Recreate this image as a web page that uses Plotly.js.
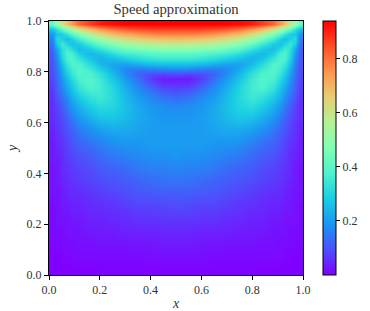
<!DOCTYPE html>
<html>
<head>
<meta charset="utf-8">
<script src="https://cdn.plot.ly/plotly-3.0.1.min.js"></script>
<style>html,body{margin:0;padding:0;background:#fff;}#c{width:370px;height:311px;}</style>
</head>
<body>
<div id="c"></div>
<script>
const xs = [.01,.03,.05,.07,.09,.12,.16,.2,.25,.3,.35,.4,.45,.5,.55,.6,.65,.7,.75,.8,.84,.88,.91,.93,.95,.97,.99];
const ys = [.99,.97,.95,.93,.91,.89,.87,.85,.83,.81,.79,.77,.74,.70,.66,.62,.57,.52,.47,.42,.37,.32,.27,.22,.17,.12,.07,.03,.01];
const speedRows = [
[.42,.52,.61,.68,.75,.82,.87,.91,.93,.94,.94,.94,.94,.94,.94,.94,.94,.94,.93,.91,.87,.82,.75,.68,.61,.52,.42],
[.26,.33,.41,.48,.54,.62,.70,.75,.80,.83,.85,.86,.865,.865,.865,.86,.85,.83,.80,.75,.70,.62,.54,.48,.41,.33,.26],
[.19,.27,.28,.33,.40,.47,.56,.63,.69,.72,.75,.77,.78,.78,.78,.77,.75,.72,.69,.63,.56,.47,.40,.33,.28,.27,.19],
[.16,.31,.29,.25,.29,.36,.45,.52,.58,.62,.65,.67,.68,.685,.68,.67,.65,.62,.58,.52,.45,.36,.29,.25,.29,.31,.16],
[.14,.28,.35,.30,.26,.28,.35,.42,.48,.52,.55,.57,.58,.58,.58,.57,.55,.52,.48,.42,.35,.28,.26,.30,.35,.28,.14],
[.12,.22,.32,.36,.31,.25,.28,.33,.39,.43,.46,.47,.49,.49,.49,.47,.46,.43,.39,.33,.28,.25,.31,.36,.32,.22,.12],
[.11,.20,.31,.38,.37,.29,.24,.26,.31,.35,.37,.39,.40,.40,.40,.39,.37,.35,.31,.26,.24,.29,.37,.38,.31,.20,.11],
[.10,.18,.29,.37,.38,.34,.27,.23,.25,.28,.31,.33,.34,.34,.34,.33,.31,.28,.25,.23,.27,.34,.38,.37,.29,.18,.10],
[.10,.16,.26,.34,.38,.38,.31,.25,.21,.21,.23,.25,.26,.26,.26,.25,.23,.21,.21,.25,.31,.38,.38,.34,.26,.16,.10],
[.09,.15,.23,.31,.36,.39,.35,.29,.22,.17,.15,.16,.17,.18,.17,.16,.15,.17,.22,.29,.35,.39,.36,.31,.23,.15,.09],
[.09,.14,.21,.28,.34,.39,.38,.33,.25,.18,.12,.09,.08,.09,.08,.09,.12,.18,.25,.33,.38,.39,.34,.28,.21,.14,.09],
[.08,.13,.19,.25,.31,.37,.39,.35,.27,.20,.14,.07,.03,.03,.03,.07,.14,.20,.27,.35,.39,.37,.31,.25,.19,.13,.08],
[.07,.12,.17,.22,.27,.34,.38,.36,.30,.23,.17,.12,.08,.07,.08,.12,.17,.23,.30,.36,.38,.34,.27,.22,.17,.12,.07],
[.06,.10,.14,.18,.23,.28,.33,.35,.31,.25,.20,.17,.14,.13,.14,.17,.20,.25,.31,.35,.33,.28,.23,.18,.14,.10,.06],
[.05,.08,.11,.15,.19,.23,.28,.31,.30,.26,.22,.19,.18,.17,.18,.19,.22,.26,.30,.31,.28,.23,.19,.15,.11,.08,.05],
[.05,.07,.09,.12,.15,.19,.23,.26,.27,.25,.22,.20,.19,.19,.19,.20,.22,.25,.27,.26,.23,.19,.15,.12,.09,.07,.05],
[.04,.06,.08,.10,.12,.15,.18,.20,.22,.22,.21,.20,.20,.20,.20,.20,.21,.22,.22,.20,.18,.15,.12,.10,.08,.06,.04],
[.03,.05,.06,.08,.10,.12,.14,.16,.18,.19,.19,.20,.20,.20,.20,.20,.19,.19,.18,.16,.14,.12,.10,.08,.06,.05,.03],
[.03,.04,.05,.07,.08,.10,.11,.13,.15,.16,.17,.18,.18,.19,.18,.18,.17,.16,.15,.13,.11,.10,.08,.07,.05,.04,.03],
[.02,.03,.05,.06,.07,.08,.09,.11,.12,.13,.15,.16,.16,.165,.16,.16,.15,.13,.12,.11,.09,.08,.07,.06,.05,.03,.02],
[.02,.03,.04,.05,.06,.07,.08,.09,.10,.11,.12,.13,.14,.14,.14,.13,.12,.11,.10,.09,.08,.07,.06,.05,.04,.03,.02],
[.02,.02,.03,.04,.05,.05,.06,.07,.08,.09,.10,.105,.11,.11,.11,.105,.10,.09,.08,.07,.06,.05,.05,.04,.03,.02,.02],
[.01,.02,.03,.03,.04,.04,.05,.055,.06,.07,.08,.08,.085,.09,.085,.08,.08,.07,.06,.055,.05,.04,.04,.03,.03,.02,.01],
[.01,.02,.02,.02,.03,.03,.04,.04,.05,.05,.06,.06,.065,.065,.065,.06,.06,.05,.05,.04,.04,.03,.03,.02,.02,.02,.01],
[.01,.01,.01,.02,.02,.02,.03,.03,.03,.04,.04,.04,.045,.045,.045,.04,.04,.04,.03,.03,.03,.02,.02,.02,.01,.01,.01],
[.005,.01,.01,.01,.01,.015,.015,.02,.02,.02,.025,.025,.03,.03,.03,.025,.025,.02,.02,.02,.015,.015,.01,.01,.01,.01,.005],
[0,0,.005,.005,.01,.01,.01,.01,.01,.01,.01,.015,.015,.015,.015,.015,.01,.01,.01,.01,.01,.01,.01,.005,.005,0,0],
[0,0,0,0,0,0,0,.005,.005,.005,.005,.005,.005,.005,.005,.005,.005,.005,.005,.005,0,0,0,0,0,0,0],
[0,0,0,0,0,0,0,0,0,0,0,0,0,0,0,0,0,0,0,0,0,0,0,0,0,0,0]
];
const rainbow = [[0,'rgb(128,0,255)'],[.1,'rgb(77,79,252)'],[.2,'rgb(26,150,242)'],[.3,'rgb(26,206,227)'],[.4,'rgb(77,242,206)'],[.5,'rgb(128,255,180)'],[.6,'rgb(179,242,150)'],[.7,'rgb(230,206,116)'],[.8,'rgb(255,150,79)'],[.9,'rgb(255,79,40)'],[1,'rgb(255,0,0)']];
const tickVals = [0,.2,.4,.6,.8,1];
const tickText = ['0.0','0.2','0.4','0.6','0.8','1.0'];
const cbVals = [.2,.4,.6,.8];
const cbText = ['0.2','0.4','0.6','0.8'];
const F = 'Liberation Serif, DejaVu Serif, serif';
const axis = {range:[0,1],tickmode:'array',tickvals:tickVals,ticktext:tickText,ticks:'outside',ticklen:4,tickwidth:1,tickcolor:'#000',
  showline:true,mirror:true,linecolor:'#000',linewidth:1,showgrid:false,zeroline:false,tickfont:{family:F,size:12,color:'#333'}};
Plotly.newPlot('c',[{type:'heatmap',x:xs,y:ys.slice().reverse(),z:speedRows.slice().reverse(),zmin:0,zmax:.94,zsmooth:'best',colorscale:rainbow,
  colorbar:{thickness:13,thicknessmode:'pixels',len:1,lenmode:'fraction',x:1.0787,xanchor:'left',y:.5,yanchor:'middle',xpad:0,ypad:0,outlinewidth:1,outlinecolor:'#000',
    tickmode:'array',tickvals:cbVals,ticktext:cbText,ticks:'outside',ticklen:4,tickwidth:1,tickcolor:'#000',tickfont:{family:F,size:12,color:'#333'}}}],
 {width:370,height:311,margin:{l:49,r:67,t:21,b:36,pad:0},paper_bgcolor:'#fff',plot_bgcolor:'#fff',
  title:{text:'Speed approximation',font:{family:F,size:14.7,color:'#333'},x:.5,xref:'paper',xanchor:'center',y:.972,yref:'container',yanchor:'middle'},
  xaxis:Object.assign({},axis,{title:{text:'<i>x</i>',font:{family:F,size:14,color:'#333'},standoff:13}}),
  yaxis:Object.assign({},axis,{title:{text:'<i>y</i>',font:{family:F,size:14,color:'#333'},standoff:5}})},
 {displayModeBar:false,staticPlot:true});
</script>
</body>
</html>
